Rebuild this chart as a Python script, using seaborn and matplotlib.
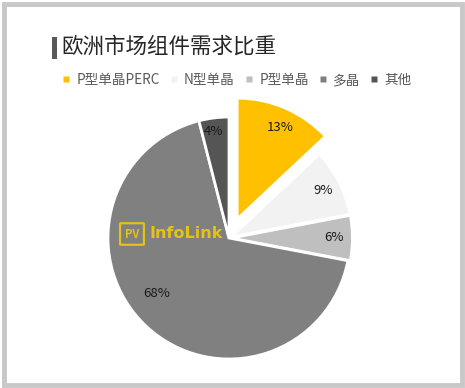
import matplotlib
matplotlib.use("Agg")
import matplotlib.pyplot as plt
import seaborn as sns
from matplotlib.lines import Line2D
from matplotlib.patches import Rectangle, FancyBboxPatch

sns.set_style("white")
plt.rcParams['font.family'] = ['Noto Sans CJK SC', 'DejaVu Sans']

categories = ["P型单晶PERC", "N型单晶", "P型单晶", "多晶", "其他"]
values = [13, 9, 6, 68, 4]
colors = ["#FFC000", "#F2F2F2", "#BFBFBF", "#808080", "#555555"]
title = "欧洲市场组件需求比重"

W, H = 465, 388
fig = plt.figure(figsize=(W / 100, H / 100), dpi=100)
fig.patch.set_facecolor("white")

# grey frame
fig.patches.append(Rectangle((4 / W, 3 / H), (W - 7) / W, (H - 7) / H,
                             transform=fig.transFigure, fill=False,
                             edgecolor="#C8C8C8", linewidth=3.5))

# pie axes
cx, cy, r = 229, 238, 121
lim = 1.3
R = r * lim
ax = fig.add_axes([(cx - R) / W, (H - cy - R) / H, 2 * R / W, 2 * R / H])
wedges, texts, autotexts = ax.pie(
    values, colors=colors, startangle=90, counterclock=False,
    explode=[0.17, 0.02, 0.02, 0, 0],
    autopct=lambda p: f"{p:.0f}%", pctdistance=0.85,
    wedgeprops=dict(edgecolor="white", linewidth=2),
    textprops=dict(fontsize=9.5, color="#1a1a1a"))
autotexts[0].set_position((autotexts[0].get_position()[0] + 0.02,
                           autotexts[0].get_position()[1] - 0.02))
autotexts[3].set_position((-0.6, -0.46))
autotexts[4].set_position((-0.13, 0.88))
ax.set_xlim(-lim, lim)
ax.set_ylim(-lim, lim)
ax.axis("off")

# title bar + title
fig.patches.append(Rectangle((52 / W, (H - 59) / H), 5 / W, 22 / H,
                             transform=fig.transFigure, facecolor="#595959",
                             edgecolor="none"))
fig.text(61 / W, (H - 47) / H, title, fontsize=15.5, color="#262626",
         va="center", ha="left")

# legend
handles = [Line2D([0], [0], marker="s", linestyle="none", markersize=4.5,
                  markerfacecolor=c, markeredgecolor="none") for c in colors]
leg = fig.legend(handles, categories, ncol=5, loc="center left",
                 bbox_to_anchor=(62 / W, (H - 80) / H), frameon=False,
                 fontsize=9.8, handlelength=0.6, handletextpad=0.45,
                 columnspacing=0.74, borderaxespad=0, borderpad=0)
for t in leg.get_texts():
    t.set_color("#595959")

# watermark
wm = "#E3C21C"
fig.patches.append(FancyBboxPatch((121 / W, (H - 244) / H), 22 / W, 20 / H,
                                  boxstyle="round,pad=0.002",
                                  transform=fig.transFigure, fill=False,
                                  edgecolor=wm, linewidth=1.6))
fig.text(132 / W, (H - 234) / H, "PV", fontsize=8, color=wm,
         ha="center", va="center", fontweight="bold")
fig.text(149 / W, (H - 234) / H, "InfoLink", fontsize=11.5, color=wm,
         ha="left", va="center", fontweight="bold", family="DejaVu Sans")

fig.savefig("out.png", dpi=100)
